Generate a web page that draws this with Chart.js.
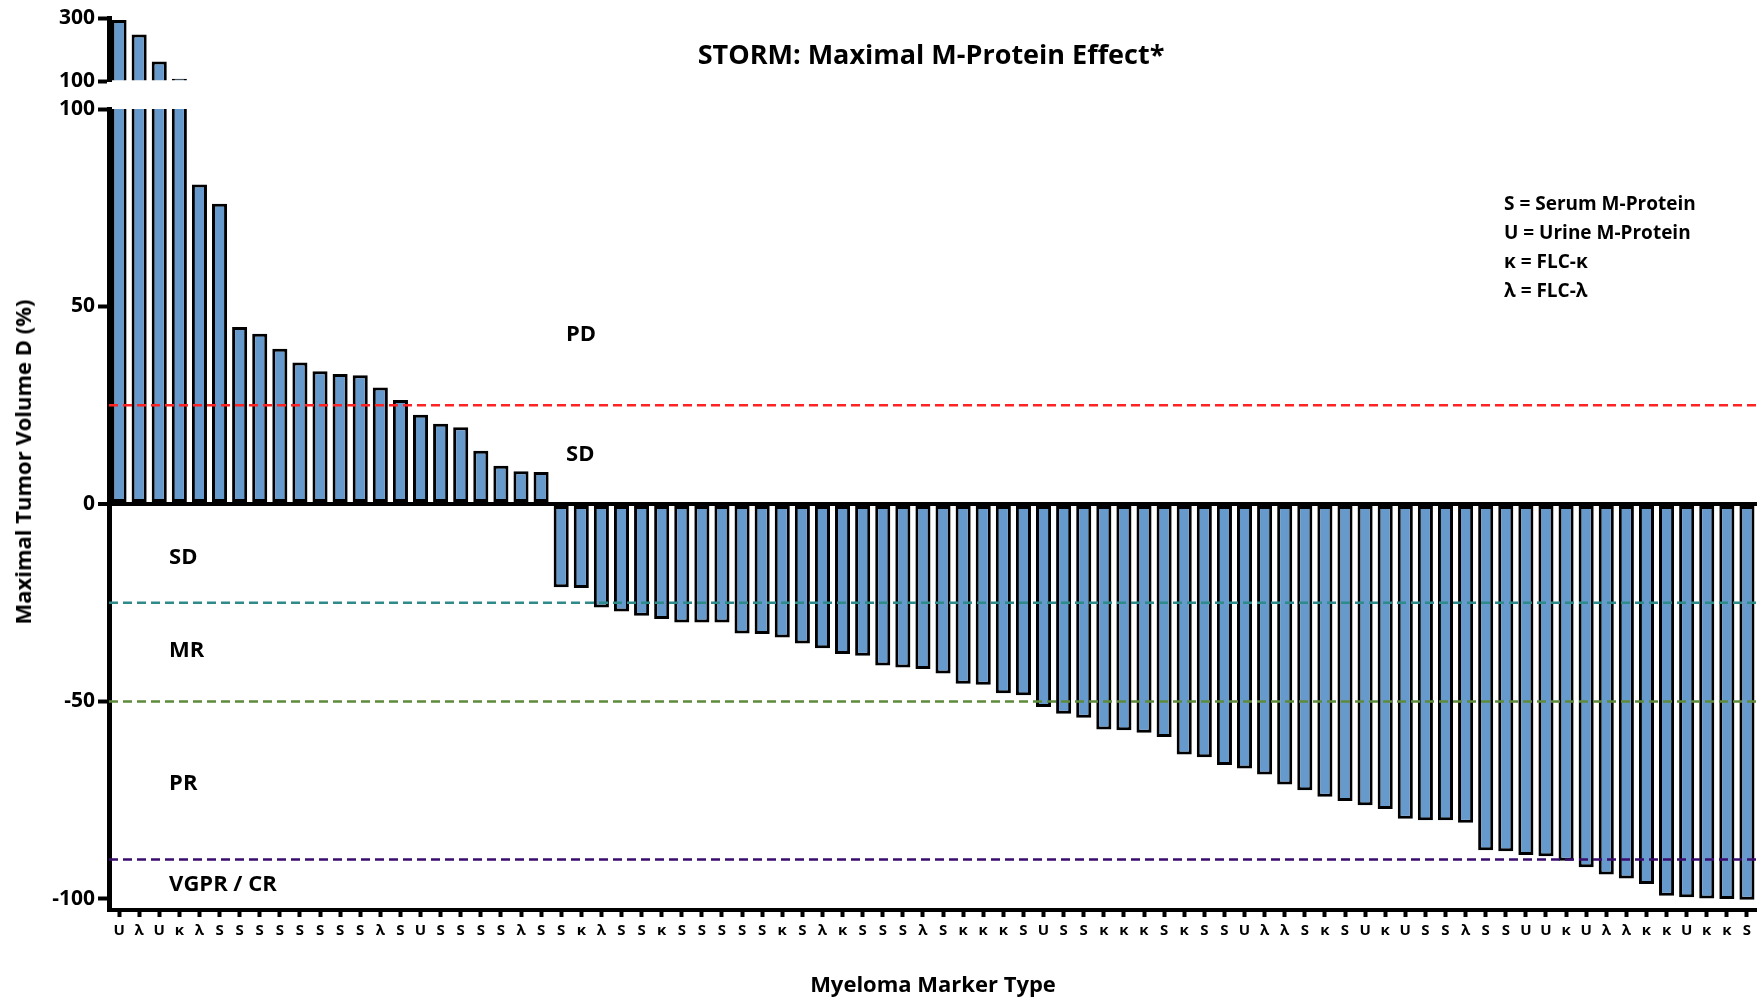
<!DOCTYPE html>
<html>
<head>
<meta charset="utf-8">
<script src="https://cdn.jsdelivr.net/npm/chart.js@4.4.1/dist/chart.umd.min.js"></script>
<style>
  html, body { margin: 0; padding: 0; background: #fff; }
  #wrap { position: relative; width: 1757px; height: 999px; overflow: hidden; font-family: "Open Sans", sans-serif; color: #000; }
  canvas { position: absolute; left: 0; }
  #title { position: absolute; left: 0; width: 1862px; top: 35px; text-align: center; font-size: 27px; font-weight: bold; }
  #ytitle { position: absolute; left: 22px; top: 462px; transform: translate(-50%, -50%) rotate(-90deg); white-space: nowrap; font-size: 22px; font-weight: bold; }
  #key { position: absolute; left: 1504px; top: 189px; font-size: 19px; font-weight: bold; line-height: 29px; white-space: nowrap; }
</style>
</head>
<body>
<div id="wrap">
  <canvas id="topChart" width="1757" height="100" style="top:0"></canvas>
  <canvas id="mainChart" width="1757" height="999" style="top:0"></canvas>
  <div id="title">STORM: Maximal M-Protein Effect*</div>
  <div id="ytitle">Maximal Tumor Volume D (%)</div>
  <div id="key"></div>
</div>
<script>
// marker type under each bar
const categories = ["U","λ","U","κ","λ","S","S","S","S","S","S","S","S","λ","S","U","S","S","S","S","λ","S",
  "S","κ","λ","S","S","κ","S","S","S","S","S","κ","S","λ","κ","S","S","S","λ","S","κ","κ","κ","S","U","S","S","κ",
  "κ","κ","S","κ","S","S","U","λ","λ","S","κ","S","U","κ","U","S","S","λ","S","S","U","U","κ","U","λ","λ","κ","κ",
  "U","κ","κ","S"];

// maximal change in M-protein (%)
const values = [294, 248, 162, 107, 80.9, 76.0, 44.8, 43.1, 39.3, 35.8, 33.6, 32.9, 32.6, 29.5, 26.3, 22.6, 20.3, 19.4,
  13.5, 9.7, 8.3, 8.1,
  -21.1, -21.3, -26.2, -27.2, -28.3, -29.1, -30.0, -30.0, -30.0, -32.8, -32.9, -33.8, -35.3, -36.5, -38.0, -38.4,
  -40.9, -41.4, -41.8, -42.9, -45.5, -45.8, -47.9, -48.4, -51.4, -53.1, -54.1, -57.1, -57.3, -57.9, -59.0, -63.4,
  -64.1, -66.1, -67.0, -68.5, -71.0, -72.5, -74.1, -75.2, -76.3, -77.2, -79.7, -80.1, -80.1, -80.7, -87.7, -87.9,
  -88.9, -89.2, -90.3, -92.0, -93.8, -94.8, -96.2, -99.2, -99.6, -99.9, -100, -100.2];

// response cut-offs
const thresholds = [25, -25, -50, -90];
const thresholdColors = ["#ff2424", "#2f8a8a", "#5e8a3c", "#3a0c6e"];

const zoneLabels = ["PD", "SD", "SD", "MR", "PR", "VGPR / CR"];
const zoneLabelY = [42.8, 12.4, -13.7, -37.2, -70.9, -96.5];

const keyLines = ["S = Serum M-Protein", "U = Urine M-Protein", "κ = FLC-κ", "λ = FLC-λ"];

const topTicks = [100, 300];

document.getElementById("key").innerHTML = keyLines.join("<br>");

Chart.defaults.font.family = "'Open Sans', sans-serif";
Chart.defaults.color = "#000";

const barFill = "#6699cc";
const tickFont = { size: 21, weight: "bold" };

const barSet = (data) => ({
  data: data,
  backgroundColor: barFill,
  borderColor: "#000",
  borderWidth: 3,
  borderSkipped: false,
  barPercentage: 0.75,
  categoryPercentage: 1.0,
  clip: 0
});

const linesAndText = {
  id: "linesAndText",
  afterDatasetsDraw(chart) {
    const { ctx, chartArea, scales } = chart;
    ctx.save();
    ctx.lineWidth = 2.5;
    ctx.setLineDash([9, 5]);
    thresholds.forEach((t, i) => {
      const y = scales.y.getPixelForValue(t);
      ctx.strokeStyle = thresholdColors[i];
      ctx.beginPath();
      ctx.moveTo(chartArea.left, y);
      ctx.lineTo(chartArea.right, y);
      ctx.stroke();
    });
    ctx.setLineDash([]);
    ctx.fillStyle = "#000";
    ctx.font = "bold 22px 'Open Sans'";
    ctx.textBaseline = "middle";
    ctx.textAlign = "left";
    zoneLabels.forEach((lab, i) => {
      const idx = i < 2 ? 22.24 : 2.49;
      const x = scales.x.getPixelForValue(idx);
      ctx.fillText(lab, x, scales.y.getPixelForValue(zoneLabelY[i]));
    });
    ctx.restore();
  }
};

// upper panel: the part above 100 %
new Chart(document.getElementById("topChart"), {
  type: "bar",
  data: {
    labels: categories,
    datasets: [Object.assign(barSet(values.map(v => v > 100 ? v : null)), { base: 100, borderSkipped: "start" })]
  },
  options: {
    responsive: false,
    animation: false,
    layout: { padding: { top: 18, bottom: 19, left: 0, right: 0 } },
    plugins: { legend: { display: false }, tooltip: { enabled: false } },
    scales: {
      x: { display: false },
      y: {
        min: 100, max: 300,
        afterFit: (s) => { s.width = 109; },
        afterBuildTicks: (s) => { s.ticks = topTicks.map(v => ({ value: v })); },
        ticks: { font: tickFont, padding: 3, color: "#000" },
        grid: { color: "rgba(0,0,0,0)", tickColor: "#000", tickWidth: 4, tickLength: 11 },
        border: { color: "#000", width: 5 }
      }
    }
  }
});

// main panel: -100 .. 100 %
new Chart(document.getElementById("mainChart"), {
  type: "bar",
  data: {
    labels: categories,
    datasets: [barSet(values)]
  },
  options: {
    responsive: false,
    animation: false,
    layout: { padding: { top: 109, bottom: 0, left: 0, right: 0 } },
    plugins: { legend: { display: false }, tooltip: { enabled: false } },
    scales: {
      x: {
        afterFit: (s) => { s.height = 89; },
        ticks: { autoSkip: false, maxRotation: 0, font: { size: 15, weight: "bold" }, padding: 5, color: "#000" },
        grid: { offset: false, drawOnChartArea: false, tickColor: "#000", tickWidth: 4, tickLength: 7 },
        border: { color: "#000", width: 4 },
        title: { display: true, text: "Myeloma Marker Type", font: { size: 22, weight: "bold" }, padding: { top: 0, bottom: 0 } }
      },
      y: {
        min: -102.8, max: 100,
        afterFit: (s) => { s.width = 109; },
        ticks: { stepSize: 50, includeBounds: false, font: tickFont, padding: 3, color: "#000" },
        grid: {
          color: (c) => c.tick && c.tick.value === 0 ? "#000" : "rgba(0,0,0,0)",
          lineWidth: (c) => c.tick && c.tick.value === 0 ? 4 : 1,
          tickColor: "#000", tickWidth: 4, tickLength: 11
        },
        border: { color: "#000", width: 5 }
      }
    }
  },
  plugins: [linesAndText]
});
</script>
</body>
</html>
